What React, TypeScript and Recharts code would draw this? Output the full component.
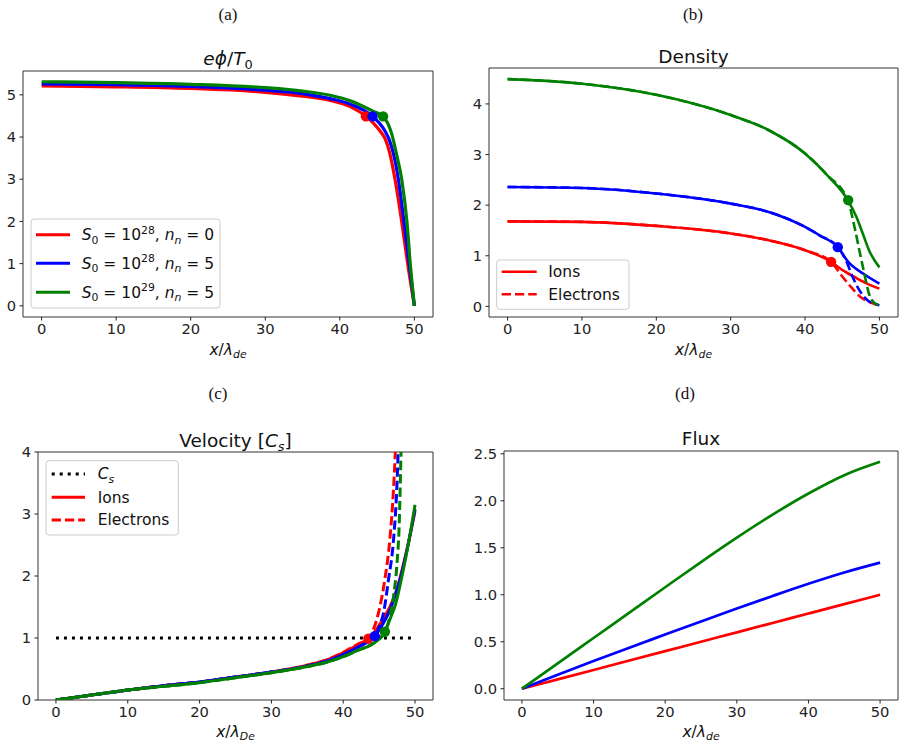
import React from 'react';
import { ComposedChart, Line, Scatter, XAxis, YAxis, ReferenceArea } from 'recharts';

// ---- (a) potential e*phi/T0 ----
const phiRedX = [0, 10, 20, 30, 35, 38.7, 41.4, 43.5, 44.5, 45.5, 46.1, 46.7, 47.4, 48.3, 49.1, 50];
const phiRedY = [5.21, 5.19, 5.15, 5.06, 4.97, 4.87, 4.72, 4.49, 4.33, 4.12, 3.95, 3.62, 3.0, 2.0, 1.0, 0];
const phiBlueX = [0, 10, 20, 30, 35, 38.7, 41.4, 44.4, 45.3, 46.1, 46.6, 47.2, 47.85, 48.6, 49.3, 50];
const phiBlueY = [5.26, 5.24, 5.2, 5.11, 5.03, 4.91, 4.78, 4.49, 4.33, 4.13, 3.95, 3.6, 3.0, 2.0, 1.0, 0];
const phiGreenX = [0, 10, 20, 30, 35, 38.7, 41.4, 44.6, 45.8, 46.5, 47.0, 47.6, 48.3, 49.0, 49.45, 50];
const phiGreenY = [5.31, 5.29, 5.25, 5.17, 5.09, 4.99, 4.86, 4.6, 4.49, 4.3, 4.05, 3.6, 3.0, 2.0, 1.0, 0];

// sheath edge (Bohm point) for each case
const edgeX = [43.5, 44.4, 45.8];
const edgePhi = [4.49, 4.49, 4.49];
const edgeDensity = [0.88, 1.17, 2.1];
const edgeVelocity = [0.99, 1.03, 1.1];

// ---- (b) density ----
const nRedIonX = [0, 10, 20, 30, 35, 40, 43.5, 45.1, 46.9, 48.5, 50];
const nRedIonY = [1.68, 1.67, 1.59, 1.44, 1.31, 1.11, 0.88, 0.71, 0.56, 0.44, 0.35];
const nRedEleX = [0, 10, 20, 30, 35, 40, 43.5, 44.9, 46.2, 47.5, 48.9, 50];
const nRedEleY = [1.68, 1.67, 1.59, 1.44, 1.31, 1.11, 0.88, 0.61, 0.38, 0.18, 0.07, 0.02];
const nBlueIonX = [0, 10, 20, 30, 35, 40, 42, 44.4, 45.8, 47.8, 50];
const nBlueIonY = [2.36, 2.34, 2.23, 2.03, 1.87, 1.57, 1.4, 1.17, 0.88, 0.65, 0.45];
const nBlueEleX = [0, 10, 20, 30, 35, 40, 42, 44.4, 45.5, 46.4, 47.3, 48.4, 49.5, 50];
const nBlueEleY = [2.36, 2.34, 2.23, 2.03, 1.87, 1.57, 1.4, 1.17, 0.91, 0.58, 0.32, 0.12, 0.04, 0.02];
const nGreenIonX = [0, 10, 20, 30, 35, 40, 43, 45.75, 46.9, 47.76, 48.6, 50];
const nGreenIonY = [4.49, 4.4, 4.18, 3.78, 3.49, 3.02, 2.59, 2.1, 1.77, 1.44, 1.11, 0.77];
const nGreenEleX = [0, 10, 20, 30, 35, 40, 43, 45.75, 46.65, 47.3, 47.97, 48.6, 49.5, 50];
const nGreenEleY = [4.49, 4.4, 4.18, 3.78, 3.49, 3.02, 2.59, 2.1, 1.57, 1.11, 0.65, 0.25, 0.05, 0.03];

// ---- (c) velocity in units of Cs ----
const csX = [0, 50];
const csY = [1, 1];
const vRedIonX = [0, 5, 10, 15, 20, 25, 30, 35, 38, 40, 42, 43.5, 44.5, 45.5, 46.5, 47.5, 48.3, 49.2, 50];
const vRedIonY = [0, 0.08, 0.16, 0.23, 0.29, 0.37, 0.45, 0.56, 0.66, 0.76, 0.89, 0.99, 1.12, 1.3, 1.5, 1.8, 2.15, 2.6, 3.05];
const vRedEleX = [0, 5, 10, 15, 20, 25, 30, 35, 38, 40, 42, 43.5, 44.4, 45.1, 45.8, 46.5, 47.0, 47.25, 47.5];
const vRedEleY = [0, 0.08, 0.16, 0.23, 0.29, 0.37, 0.45, 0.56, 0.66, 0.77, 0.9, 0.99, 1.2, 1.5, 1.95, 2.6, 3.4, 4.0, 4.8];
const vBlueIonX = [0, 5, 10, 15, 20, 25, 30, 35, 38, 40, 42, 44.4, 45.5, 46.5, 47.5, 48.3, 49.2, 50];
const vBlueIonY = [0, 0.08, 0.16, 0.23, 0.29, 0.37, 0.45, 0.55, 0.64, 0.73, 0.85, 1.03, 1.22, 1.45, 1.78, 2.12, 2.6, 3.08];
const vBlueEleX = [0, 5, 10, 15, 20, 25, 30, 35, 38, 40, 42, 44.4, 45.0, 45.6, 46.3, 47.0, 47.45, 47.65, 47.9];
const vBlueEleY = [0, 0.08, 0.16, 0.23, 0.29, 0.37, 0.45, 0.55, 0.64, 0.73, 0.85, 1.03, 1.18, 1.4, 1.94, 2.58, 3.39, 4.0, 4.8];
const vGreenIonX = [0, 5, 10, 15, 20, 25, 30, 35, 38, 40, 42, 44, 45.8, 46.5, 47.3, 48, 48.8, 49.5, 50];
const vGreenIonY = [0, 0.08, 0.16, 0.22, 0.28, 0.36, 0.44, 0.54, 0.62, 0.7, 0.8, 0.9, 1.1, 1.3, 1.55, 1.9, 2.35, 2.8, 3.15];
const vGreenEleX = [0, 5, 10, 15, 20, 25, 30, 35, 38, 40, 42, 44, 45.8, 46.5, 47.0, 47.45, 47.8, 48.05, 48.25];
const vGreenEleY = [0, 0.08, 0.16, 0.22, 0.28, 0.36, 0.44, 0.54, 0.62, 0.7, 0.8, 0.9, 1.1, 1.35, 1.67, 2.15, 2.85, 4.0, 4.8];

// ---- (d) flux ----
const fluxX = [0, 5, 10, 15, 20, 25, 30, 35, 40, 45, 50];
const fluxRed = [0, 0.1, 0.2, 0.3, 0.4, 0.5, 0.6, 0.7, 0.8, 0.9, 1.0];
const fluxBlue = [0, 0.148, 0.294, 0.437, 0.577, 0.716, 0.853, 0.987, 1.117, 1.237, 1.342];
const fluxGreen = [0, 0.27, 0.54, 0.81, 1.08, 1.348, 1.608, 1.853, 2.078, 2.273, 2.415];

const xTicks = [0, 10, 20, 30, 40, 50];
const phiTicks = [0, 1, 2, 3, 4, 5];
const densityTicks = [0, 1, 2, 3, 4];
const velocityTicks = [0, 1, 2, 3, 4];
const fluxTicks = [0, 0.5, 1.0, 1.5, 2.0, 2.5];

const RED = '#ff0000';
const BLUE = '#0000ff';
const GREEN = '#008000';
const COLORS = [RED, BLUE, GREEN];
const FONT = 'DejaVu Sans';
const DASH = '9.25 4';
const DOT = '3 5';

const pts = (xs: number[], ys: number[]) => xs.map((x, i) => ({ x, y: ys[i] }));

type Series = { data: { x: number; y: number }[]; color: string; dash?: string; width?: number };
type Frame = { l: number; t: number; r: number; b: number };

const AXIS_W = 36;
const AXIS_H = 30;
const PAD = 10;
const X_DOMAIN: [number, number] = [-2.5, 52.5];

const tickStyle = { fontSize: 14.7, fill: '#222', fontFamily: FONT };

const Panel = ({ frame, yDomain, yTicks, yFormat, series, dots, lw }: {
  frame: Frame;
  yDomain: [number, number];
  yTicks: number[];
  yFormat?: (v: number) => string;
  series: Series[];
  dots?: { x: number; y: number; color: string }[];
  lw: number;
}) => {
  const w = frame.r - frame.l;
  const h = frame.b - frame.t;
  return (
    <div style={{ position: 'absolute', left: frame.l - AXIS_W, top: frame.t - PAD }}>
      <ComposedChart
        width={w + AXIS_W + PAD}
        height={h + PAD + AXIS_H}
        margin={{ top: PAD, right: PAD, bottom: 0, left: 0 }}
        style={{ fontFamily: FONT }}
      >
        <XAxis
          type="number"
          dataKey="x"
          domain={X_DOMAIN}
          ticks={xTicks}
          interval={0}
          allowDataOverflow
          axisLine={false}
          tickLine={{ stroke: '#222' }}
          tickSize={3.5}
          tickMargin={3.5}
          height={AXIS_H}
          tick={tickStyle}
        />
        <YAxis
          type="number"
          dataKey="y"
          domain={yDomain}
          ticks={yTicks}
          interval={0}
          allowDataOverflow
          axisLine={false}
          tickLine={{ stroke: '#222' }}
          tickSize={3.5}
          tickMargin={3.5}
          width={AXIS_W}
          tick={tickStyle}
          tickFormatter={yFormat}
        />
        <ReferenceArea
          x1={X_DOMAIN[0]}
          x2={X_DOMAIN[1]}
          y1={yDomain[0]}
          y2={yDomain[1]}
          fill="none"
          fillOpacity={0}
          stroke="#333"
          strokeWidth={1}
          ifOverflow="visible"
        />
        {series.map((s, i) => (
          <Line
            key={i}
            data={s.data}
            dataKey="y"
            type="monotone"
            stroke={s.color}
            strokeWidth={s.width ?? lw}
            strokeDasharray={s.dash}
            dot={false}
            activeDot={false}
            isAnimationActive={false}
          />
        ))}
        {(dots ?? []).map((d, i) => (
          <Scatter
            key={'d' + i}
            data={[{ x: d.x, y: d.y }]}
            dataKey="y"
            fill={d.color}
            isAnimationActive={false}
            shape={(p: any) => <circle cx={p.cx} cy={p.cy} r={5.2} fill={d.color} />}
          />
        ))}
      </ComposedChart>
    </div>
  );
};

type Seg = { t: string; i?: boolean; s?: 'sub' | 'sup' };

// small mathtext-like renderer: italics, sub- and superscripts
const MathText = ({ x, y, size, segs, anchor = 'middle', family = FONT }: {
  x: number; y: number; size: number; segs: Seg[]; anchor?: 'start' | 'middle' | 'end'; family?: string;
}) => {
  let shift = 0;
  return (
    <text x={x} y={y} fontSize={size} textAnchor={anchor} fontFamily={family} fill="#111">
      {segs.map((g, k) => {
        const target = g.s === 'sub' ? size * 0.22 : g.s === 'sup' ? -size * 0.42 : 0;
        const dy = target - shift;
        shift = target;
        return (
          <tspan key={k} dy={dy} fontSize={g.s ? size * 0.7 : size} fontStyle={g.i ? 'italic' : 'normal'}>
            {g.t}
          </tspan>
        );
      })}
    </text>
  );
};

const LegendBox = ({ x, y, w, h, rows, textX, handle }: {
  x: number; y: number; w: number; h: number;
  rows: { cy: number; color: string; dash?: string; width: number; segs: Seg[] }[];
  textX: number;
  handle: [number, number];
}) => (
  <g>
    <rect x={x} y={y} width={w} height={h} rx={3} fill="#fff" fillOpacity={0.8} stroke="#ccc" strokeWidth={1} />
    {rows.map((r, i) => (
      <g key={i}>
        <line x1={handle[0]} x2={handle[1]} y1={r.cy} y2={r.cy} stroke={r.color} strokeWidth={r.width} strokeDasharray={r.dash} />
        <MathText x={textX} y={r.cy + 5.4} size={15.5} segs={r.segs} anchor="start" />
      </g>
    ))}
  </g>
);

const xLabel = (sub: string): Seg[] => [{ t: 'x', i: true }, { t: '/' }, { t: 'λ', i: true }, { t: sub, i: true, s: 'sub' }];

const caseLabel = (exp: string, nn: string): Seg[] => [
  { t: 'S', i: true }, { t: '0', s: 'sub' }, { t: ' = 10' }, { t: exp, s: 'sup' },
  { t: ', ' }, { t: 'n', i: true }, { t: 'n', i: true, s: 'sub' }, { t: ' = ' + nn },
];

const frameA: Frame = { l: 23, t: 71, r: 433, b: 317 };
const frameB: Frame = { l: 489, t: 68, r: 898, b: 317 };
const frameC: Frame = { l: 38, t: 452, r: 433, b: 700 };
const frameD: Frame = { l: 504, t: 451, r: 898, b: 700 };

const edgeDots = (ys: number[]) => edgeX.map((x, i) => ({ x, y: ys[i], color: COLORS[i] }));

export default function App() {
  const phiSeries: Series[] = [
    { data: pts(phiRedX, phiRedY), color: RED },
    { data: pts(phiBlueX, phiBlueY), color: BLUE },
    { data: pts(phiGreenX, phiGreenY), color: GREEN },
  ];
  const densitySeries: Series[] = [
    { data: pts(nRedIonX, nRedIonY), color: RED },
    { data: pts(nRedEleX, nRedEleY), color: RED, dash: DASH },
    { data: pts(nBlueIonX, nBlueIonY), color: BLUE },
    { data: pts(nBlueEleX, nBlueEleY), color: BLUE, dash: DASH },
    { data: pts(nGreenIonX, nGreenIonY), color: GREEN },
    { data: pts(nGreenEleX, nGreenEleY), color: GREEN, dash: DASH },
  ];
  const velocitySeries: Series[] = [
    { data: pts(csX, csY), color: '#000', dash: DOT },
    { data: pts(vRedIonX, vRedIonY), color: RED },
    { data: pts(vRedEleX, vRedEleY), color: RED, dash: DASH },
    { data: pts(vBlueIonX, vBlueIonY), color: BLUE },
    { data: pts(vBlueEleX, vBlueEleY), color: BLUE, dash: DASH },
    { data: pts(vGreenIonX, vGreenIonY), color: GREEN },
    { data: pts(vGreenEleX, vGreenEleY), color: GREEN, dash: DASH },
  ];
  const fluxSeries: Series[] = [
    { data: pts(fluxX, fluxRed), color: RED },
    { data: pts(fluxX, fluxBlue), color: BLUE },
    { data: pts(fluxX, fluxGreen), color: GREEN },
  ];

  return (
    <div style={{ position: 'absolute', left: 0, top: 0, width: 906, height: 747, background: '#fff', overflow: 'hidden' }}>
      <Panel frame={frameA} yDomain={[-0.265, 5.565]} yTicks={phiTicks} series={phiSeries} dots={edgeDots(edgePhi)} lw={3.2} />
      <Panel frame={frameB} yDomain={[-0.21, 4.71]} yTicks={densityTicks} series={densitySeries} dots={edgeDots(edgeDensity)} lw={2.6} />
      <Panel frame={frameC} yDomain={[0, 4]} yTicks={velocityTicks} series={velocitySeries} dots={edgeDots(edgeVelocity)} lw={3} />
      <Panel frame={frameD} yDomain={[-0.12, 2.53]} yTicks={fluxTicks} yFormat={(v) => v.toFixed(1)} series={fluxSeries} lw={2.7} />

      <svg width={906} height={747} style={{ position: 'absolute', left: 0, top: 0, pointerEvents: 'none' }}>
        {/* panel captions */}
        <text x={228} y={20} fontSize={17} textAnchor="middle" fontFamily="Liberation Serif" fill="#111">(a)</text>
        <text x={693} y={20} fontSize={17} textAnchor="middle" fontFamily="Liberation Serif" fill="#111">(b)</text>
        <text x={218} y={399} fontSize={17} textAnchor="middle" fontFamily="Liberation Serif" fill="#111">(c)</text>
        <text x={685} y={399} fontSize={17} textAnchor="middle" fontFamily="Liberation Serif" fill="#111">(d)</text>

        {/* titles */}
        <MathText x={228} y={65} size={18.5} segs={[{ t: 'e', i: true }, { t: 'ϕ', i: true }, { t: '/' }, { t: 'T', i: true }, { t: '0', s: 'sub' }]} />
        <MathText x={693.5} y={63} size={18.5} segs={[{ t: 'Density' }]} />
        <MathText x={235.5} y={446.5} size={18.5} segs={[{ t: 'Velocity [' }, { t: 'C', i: true }, { t: 's', i: true, s: 'sub' }, { t: ']' }]} />
        <MathText x={701} y={444.5} size={18.5} segs={[{ t: 'Flux' }]} />

        {/* x axis labels */}
        <MathText x={228} y={355} size={15.5} segs={xLabel('de')} />
        <MathText x={693.5} y={355} size={15.5} segs={xLabel('de')} />
        <MathText x={235.5} y={736.5} size={15.5} segs={xLabel('De')} />
        <MathText x={701} y={736.5} size={15.5} segs={xLabel('de')} />

        {/* legends */}
        <LegendBox
          x={31} y={219} w={189} h={89} textX={81.7} handle={[36, 70]}
          rows={[
            { cy: 234.7, color: RED, width: 3, segs: caseLabel('28', '0') },
            { cy: 263.3, color: BLUE, width: 3, segs: caseLabel('28', '5') },
            { cy: 292.3, color: GREEN, width: 3, segs: caseLabel('29', '5') },
          ]}
        />
        <LegendBox
          x={496.7} y={260} w={132.3} h={49.3} textX={548.3} handle={[501.7, 536.7]}
          rows={[
            { cy: 271.7, color: RED, width: 2.6, segs: [{ t: 'Ions' }] },
            { cy: 294.3, color: RED, width: 2.6, dash: DASH, segs: [{ t: 'Electrons' }] },
          ]}
        />
        <LegendBox
          x={46} y={460.7} w={132.3} h={74.3} textX={97.7} handle={[51.7, 85]}
          rows={[
            { cy: 474, color: '#000', width: 3, dash: DOT, segs: [{ t: 'C', i: true }, { t: 's', i: true, s: 'sub' }] },
            { cy: 497.3, color: RED, width: 3, segs: [{ t: 'Ions' }] },
            { cy: 520, color: RED, width: 3, dash: DASH, segs: [{ t: 'Electrons' }] },
          ]}
        />
      </svg>
    </div>
  );
}
